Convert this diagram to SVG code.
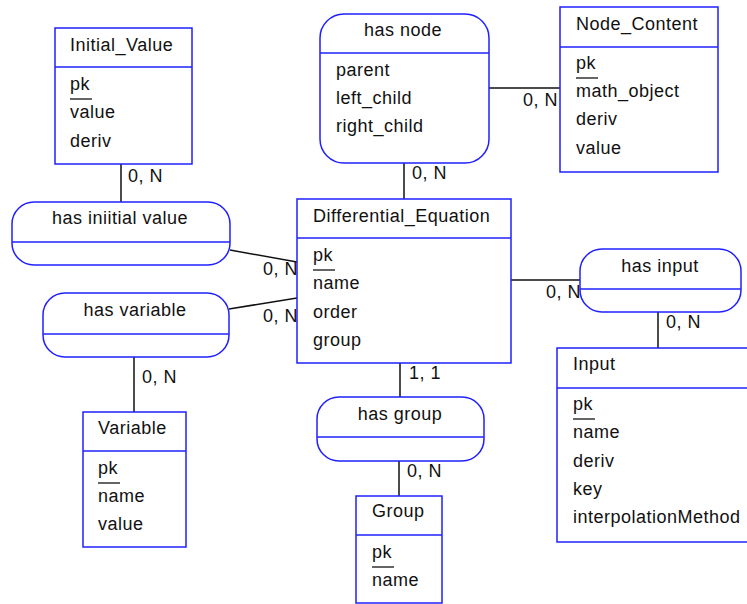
<svg xmlns="http://www.w3.org/2000/svg" width="747" height="604" viewBox="0 0 747 604">
<style>
.box{fill:#fff;stroke:#2020ff;stroke-width:1.5}
.div{stroke:#2020ff;stroke-width:1.5}
.t{font-family:"Liberation Sans",Arial,sans-serif;font-size:18px;letter-spacing:0.5px;fill:#111}
.c{text-anchor:middle}
.ul{stroke:#111;stroke-width:1.3}
.conn line{stroke:#111;stroke-width:1.5}
</style>
<rect width="747" height="604" fill="#fff"/>
<g id="connectors" class="conn">
<line x1="121" y1="164" x2="121" y2="203"/>
<line x1="404" y1="163" x2="404" y2="199"/>
<line x1="489" y1="88" x2="560" y2="88"/>
<line x1="230" y1="250" x2="297" y2="262"/>
<line x1="229" y1="309" x2="297" y2="298"/>
<line x1="134" y1="357" x2="134" y2="412"/>
<line x1="511" y1="280" x2="580" y2="280"/>
<line x1="658" y1="312" x2="658" y2="348"/>
<line x1="400" y1="363" x2="400" y2="397"/>
<line x1="399" y1="461" x2="399" y2="496"/>
</g>
<g id="labels">
<text class="t" x="128" y="182">0, N</text>
<text class="t" x="412" y="179">0, N</text>
<text class="t" x="523" y="106">0, N</text>
<text class="t" x="263" y="275">0, N</text>
<text class="t" x="263" y="322">0, N</text>
<text class="t" x="142" y="383">0, N</text>
<text class="t" x="546" y="298">0, N</text>
<text class="t" x="666" y="328">0, N</text>
<text class="t" x="409" y="379">1, 1</text>
<text class="t" x="407" y="477">0, N</text>
</g>
<g id="Initial_Value">
<rect class="box" x="55" y="28" width="137" height="136"/>
<line class="div" x1="55" y1="67" x2="192" y2="67"/>
<text class="t" x="70" y="51">Initial_Value</text>
<text class="t" x="70" y="90">pk</text>
<line class="ul" x1="70" y1="99" x2="92" y2="99"/>
<text class="t" x="70" y="118">value</text>
<text class="t" x="70" y="147">deriv</text>
</g>
<g id="has_node">
<rect class="box" x="320" y="14" width="169" height="149" rx="24" ry="24"/>
<line class="div" x1="320" y1="53" x2="489" y2="53"/>
<text class="t c" x="403" y="36">has node</text>
<text class="t" x="336" y="76">parent</text>
<text class="t" x="336" y="104">left_child</text>
<text class="t" x="336" y="132">right_child</text>
</g>
<g id="Node_Content">
<rect class="box" x="560" y="7" width="158" height="165"/>
<line class="div" x1="560" y1="47" x2="718" y2="47"/>
<text class="t" x="576" y="30">Node_Content</text>
<text class="t" x="576" y="69">pk</text>
<line class="ul" x1="576" y1="78" x2="598" y2="78"/>
<text class="t" x="576" y="97">math_object</text>
<text class="t" x="576" y="125">deriv</text>
<text class="t" x="576" y="154">value</text>
</g>
<g id="Differential_Equation">
<rect class="box" x="297" y="199" width="214" height="164"/>
<line class="div" x1="297" y1="238" x2="511" y2="238"/>
<text class="t" x="313" y="222">Differential_Equation</text>
<text class="t" x="313" y="261">pk</text>
<line class="ul" x1="313" y1="270" x2="335" y2="270"/>
<text class="t" x="313" y="289">name</text>
<text class="t" x="313" y="318">order</text>
<text class="t" x="313" y="346">group</text>
</g>
<g id="has_initial_value">
<rect class="box" x="12" y="202" width="218" height="63" rx="22" ry="22"/>
<line class="div" x1="12" y1="242" x2="230" y2="242"/>
<text class="t c" x="120" y="224">has iniitial value</text>
</g>
<g id="has_variable">
<rect class="box" x="43" y="293" width="186" height="64" rx="22" ry="22"/>
<line class="div" x1="43" y1="334" x2="229" y2="334"/>
<text class="t c" x="135" y="316">has variable</text>
</g>
<g id="has_input">
<rect class="box" x="580" y="249" width="161" height="63" rx="22" ry="22"/>
<line class="div" x1="580" y1="289" x2="741" y2="289"/>
<text class="t c" x="660" y="272">has input</text>
</g>
<g id="Input">
<rect class="box" x="557" y="348" width="195" height="194"/>
<line class="div" x1="557" y1="388" x2="752" y2="388"/>
<text class="t" x="573" y="370">Input</text>
<text class="t" x="573" y="410">pk</text>
<line class="ul" x1="573" y1="419" x2="595" y2="419"/>
<text class="t" x="573" y="438">name</text>
<text class="t" x="573" y="467">deriv</text>
<text class="t" x="573" y="495">key</text>
<text class="t" x="573" y="523">interpolationMethod</text>
</g>
<g id="Variable">
<rect class="box" x="83" y="412" width="103" height="135"/>
<line class="div" x1="83" y1="451" x2="186" y2="451"/>
<text class="t" x="98" y="434">Variable</text>
<text class="t" x="98" y="474">pk</text>
<line class="ul" x1="98" y1="483" x2="120" y2="483"/>
<text class="t" x="98" y="502">name</text>
<text class="t" x="98" y="530">value</text>
</g>
<g id="has_group">
<rect class="box" x="317" y="397" width="167" height="64" rx="22" ry="22"/>
<line class="div" x1="317" y1="437" x2="484" y2="437"/>
<text class="t c" x="400" y="420">has group</text>
</g>
<g id="Group">
<rect class="box" x="356" y="496" width="86" height="107"/>
<line class="div" x1="356" y1="535" x2="442" y2="535"/>
<text class="t" x="372" y="517">Group</text>
<text class="t" x="372" y="558">pk</text>
<line class="ul" x1="372" y1="567" x2="394" y2="567"/>
<text class="t" x="372" y="586">name</text>
</g>
</svg>
